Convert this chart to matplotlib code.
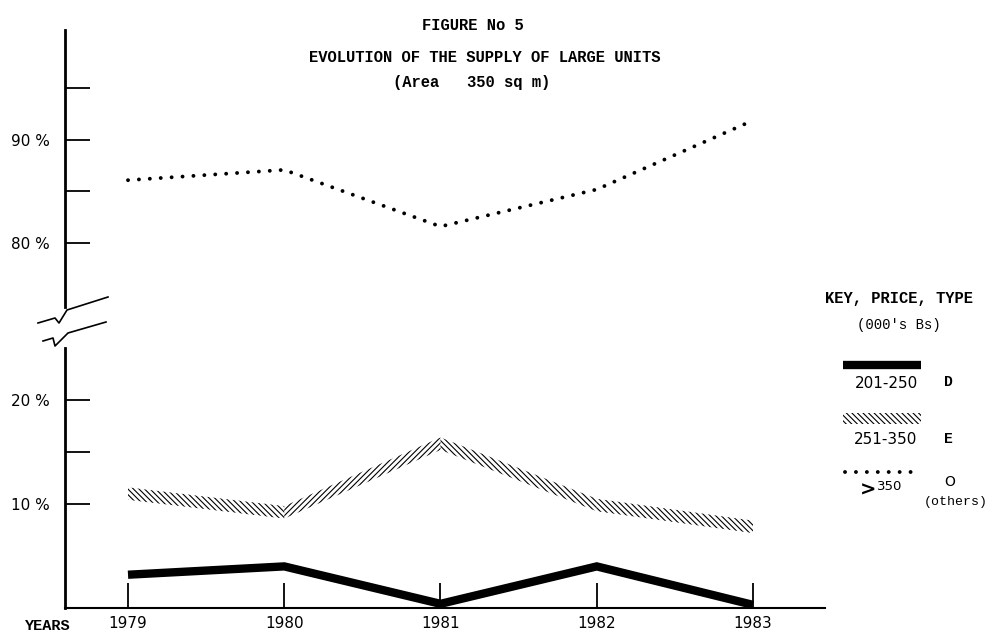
import matplotlib
matplotlib.use('Agg')
import matplotlib.pyplot as plt
from matplotlib.lines import Line2D
from matplotlib.patches import Rectangle

# ---- data ----
years = [1979, 1980, 1981, 1982, 1983]
year_labels = ['1979', '1980', '1981', '1982', '1983']
type_d = [3.2, 4.0, 0.4, 4.0, 0.3]        # 201-250  D
type_e = [11.0, 9.2, 15.8, 9.9, 7.8]      # 251-350  E
type_o = [86.1, 87.1, 81.6, 85.2, 91.9]   # >350     O (others)
lower_ticks = [10, 15, 20]
lower_ticklabels = ['10 %', '', '20 %']
upper_ticks = [80, 85, 90, 95]
upper_ticklabels = ['80 %', '', '90 %', '']
hd = '\\' * 6
hu = '/' * 6
seg_hatches = [hd, hu, hd, hd]

W, H = 992, 635
plt.rcParams['hatch.linewidth'] = 0.8
fig = plt.figure(figsize=(W / 100, H / 100), dpi=100)

def fx(x):
    return x / W

def fy(y):
    return 1 - y / H

mono = 'Liberation Mono'
num_font = 'DejaVu Sans'

# ---- axes ----
left_px, right_px = 65, 825
ax_lo = fig.add_axes([fx(left_px), fy(608), fx(right_px - left_px), (608 - 348) / H])
ax_hi = fig.add_axes([fx(left_px), fy(307), fx(right_px - left_px), (307 - 30) / H], sharex=ax_lo)

x0 = 1979 - (128 - 65) / 156.25
x1 = 1979 + (825 - 128) / 156.25
ax_lo.set_xlim(x0, x1)
ax_lo.set_ylim(0, 25)
ax_hi.set_ylim(80 - 64 / 10.3, 90 + 110 / 10.3)

for ax in (ax_lo, ax_hi):
    ax.patch.set_alpha(0)
    for s in ('top', 'right'):
        ax.spines[s].set_visible(False)
    ax.spines['left'].set_linewidth(2.0)
ax_hi.spines['bottom'].set_visible(False)
ax_lo.spines['bottom'].set_linewidth(1.5)

ax_lo.set_yticks(lower_ticks)
ax_lo.set_yticklabels(lower_ticklabels, fontsize=11, fontfamily=num_font)
ax_hi.set_yticks(upper_ticks)
ax_hi.set_yticklabels(upper_ticklabels, fontsize=11, fontfamily=num_font)
for ax in (ax_lo, ax_hi):
    ax.tick_params(axis='y', direction='in', length=18, width=1.3, pad=11)

ax_lo.set_xticks(years)
ax_lo.set_xticklabels(year_labels, fontsize=11, fontfamily=num_font)
ax_lo.tick_params(axis='x', direction='in', length=18, width=1.3, pad=6)
ax_hi.tick_params(axis='x', which='both', bottom=False, labelbottom=False)

# ---- series ----
ax_lo.plot(years, type_d, color='black', lw=6, solid_joinstyle='miter',
           solid_capstyle='butt', clip_on=False, zorder=3)

half = 0.6
for i in range(len(years) - 1):
    xs = years[i:i + 2]
    ys = type_e[i:i + 2]
    ax_lo.fill_between(xs, [v - half for v in ys], [v + half for v in ys],
                       facecolor='none', edgecolor='black', linewidth=0,
                       hatch=seg_hatches[i], zorder=2)

ax_hi.plot(years, type_o, color='black', lw=2.8, linestyle=(0, (0.01, 2.8)),
           dash_capstyle='round', clip_on=False, zorder=3)

# ---- axis break marks ----
brk1 = [(38, 323), (55, 318), (59, 323), (67, 310), (108, 297)]
brk2 = [(43, 341), (53, 338), (55, 346), (68, 333), (106, 322)]
for b in (brk1, brk2):
    fig.add_artist(Line2D([fx(p[0]) for p in b], [fy(p[1]) for p in b],
                          color='black', lw=1.2, transform=fig.transFigure))

# ---- titles ----
tkw = dict(fontfamily=mono, fontweight='bold', fontsize=11.2, ha='center', va='center')
fig.text(fx(473), fy(25), 'FIGURE No 5', **tkw)
fig.text(fx(485), fy(58), 'EVOLUTION OF THE SUPPLY OF LARGE UNITS', **tkw)
fig.text(fx(472), fy(82), '(Area   350 sq m)', **tkw)
fig.text(fx(48), fy(626), 'YEARS', fontfamily=mono, fontweight='bold', fontsize=11,
         ha='center', va='center')

# ---- key ----
fig.text(fx(899), fy(299), 'KEY, PRICE, TYPE', **tkw)
fig.text(fx(899), fy(325), "(000's Bs)", fontfamily=mono, fontsize=10, ha='center', va='center')

fig.add_artist(Line2D([fx(843), fx(921)], [fy(365), fy(365)], color='black', lw=6,
                      solid_capstyle='butt', transform=fig.transFigure))
fig.text(fx(886), fy(383), '201-250', fontfamily=num_font, fontsize=11, ha='center', va='center')
fig.text(fx(948), fy(382), 'D', fontfamily=mono, fontweight='bold', fontsize=10.5,
         ha='center', va='center')

fig.add_artist(Rectangle((fx(843), fy(424)), fx(921 - 843), (424 - 413) / H,
                         facecolor='none', edgecolor='black', linewidth=0,
                         hatch=hd, transform=fig.transFigure))
fig.text(fx(886), fy(440), '251-350', fontfamily=num_font, fontsize=11, ha='center', va='center')
fig.text(fx(948), fy(439), 'E', fontfamily=mono, fontweight='bold', fontsize=10.5,
         ha='center', va='center')

fig.add_artist(Line2D([fx(845), fx(921)], [fy(472), fy(472)], color='black', lw=2.8,
                      linestyle=(0, (0.01, 2.8)), dash_capstyle='round',
                      transform=fig.transFigure))
fig.text(fx(868), fy(490), '>', fontfamily=num_font, fontweight='bold', fontsize=14,
         ha='center', va='center')
fig.text(fx(890), fy(486), '350', fontfamily=num_font, fontsize=9.5, ha='center', va='center')
fig.text(fx(950), fy(482), 'O', fontfamily=num_font, fontsize=10, ha='center', va='center')
fig.text(fx(956), fy(502), '(others)', fontfamily=mono, fontsize=9.5, ha='center', va='center')

fig.savefig('out.png', dpi=100)
